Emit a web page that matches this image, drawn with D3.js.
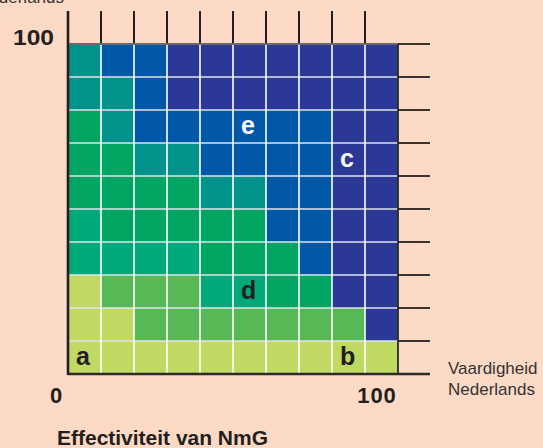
<!DOCTYPE html>
<html>
<head>
<meta charset="utf-8">
<script src="https://cdn.jsdelivr.net/npm/d3@7"></script>
<style>
  html, body { margin: 0; padding: 0; background: #fddac5; }
  svg { display: block; }
</style>
</head>
<body>
<svg id="grafiek" width="543" height="448"></svg>
<script>
// klassen per cel, rijen van boven (90-100) naar beneden (0-10)
const kleuren = {
  L: "#bfd962", M: "#57b955", TG: "#00a97a", G: "#00a562",
  T: "#00928b", B: "#0058a6", D: "#2b3895"
};
const rijen = [
  ["T","B","B","D","D","D","D","D","D","D"],
  ["T","T","B","D","D","D","D","D","D","D"],
  ["G","T","B","B","B","B","B","B","D","D"],
  ["G","G","T","T","B","B","B","B","D","D"],
  ["G","G","G","G","T","T","B","B","D","D"],
  ["TG","G","G","G","G","G","B","B","D","D"],
  ["TG","TG","TG","TG","G","G","G","B","D","D"],
  ["L","M","M","M","TG","TG","G","G","D","D"],
  ["L","L","M","M","M","M","M","M","M","D"],
  ["L","L","L","L","L","L","L","L","L","L"]
];
const stap = 10;
const topTicks = [10, 20, 30, 40, 50, 60, 70, 80, 90];
const rechtsTicks = [0, 10, 20, 30, 40, 50, 60, 70, 80, 90, 100];
const asLabels = ["0", "100"];
// letters: x = vaardigheid, y = effectiviteit (onderkant cel)
const letters = [
  { l: "a", x: 0, y: 0, wit: false },
  { l: "b", x: 80, y: 0, wit: false },
  { l: "c", x: 80, y: 60, wit: true },
  { l: "d", x: 50, y: 20, wit: false },
  { l: "e", x: 50, y: 70, wit: true }
];

const svg = d3.select("#grafiek");
const x = d3.scaleLinear().domain([0, 100]).range([68, 398]);
const y = d3.scaleLinear().domain([0, 100]).range([374, 44]);
const lettertype = "'Liberation Sans', Arial, sans-serif";

const cellen = [];
rijen.forEach((rij, i) => {
  rij.forEach((k, j) => {
    cellen.push({ x0: j * stap, y0: (rijen.length - 1 - i) * stap, k: k });
  });
});

svg.append("g").selectAll("rect")
  .data(cellen)
  .enter().append("rect")
    .attr("x", d => x(d.x0))
    .attr("y", d => y(d.y0 + stap))
    .attr("width", d => x(d.x0 + stap) - x(d.x0))
    .attr("height", d => y(d.y0) - y(d.y0 + stap))
    .attr("fill", d => kleuren[d.k]);

// witte rasterlijnen
const raster = svg.append("g");
raster.selectAll("line.h")
  .data(d3.range(stap, 100, stap))
  .enter().append("line")
    .attr("x1", x(0)).attr("x2", x(100))
    .attr("y1", d => y(d)).attr("y2", d => y(d))
    .attr("stroke", "#dfe4ee").attr("stroke-width", 1.6);
raster.selectAll("line.v")
  .data(d3.range(stap, 100, stap))
  .enter().append("line")
    .attr("x1", d => x(d)).attr("x2", d => x(d))
    .attr("y1", y(100)).attr("y2", y(0))
    .attr("stroke", "#ffffff").attr("stroke-width", 1.6);

// ticks boven
svg.append("g").selectAll("line")
  .data(topTicks)
  .enter().append("line")
    .attr("x1", d => x(d)).attr("x2", d => x(d))
    .attr("y1", 11).attr("y2", y(100))
    .attr("stroke", "#231f20").attr("stroke-width", 2);

// ticks rechts
svg.append("g").selectAll("line")
  .data(rechtsTicks)
  .enter().append("line")
    .attr("x1", x(100)).attr("x2", 430)
    .attr("y1", d => y(d)).attr("y2", d => y(d))
    .attr("stroke", "#231f20").attr("stroke-width", 1.8);

// randen
svg.append("line")
  .attr("x1", x(0)).attr("x2", x(100)).attr("y1", y(100)).attr("y2", y(100))
  .attr("stroke", "#6d6a6a").attr("stroke-width", 2.2);
svg.append("line")
  .attr("x1", x(100)).attr("x2", x(100)).attr("y1", y(100)).attr("y2", y(0))
  .attr("stroke", "#2a2a2a").attr("stroke-width", 1.8);
svg.append("line")
  .attr("x1", x(0)).attr("x2", 430).attr("y1", y(0)).attr("y2", y(0))
  .attr("stroke", "#2a2a2a").attr("stroke-width", 2.6);
svg.append("line")
  .attr("x1", x(0)).attr("x2", x(0)).attr("y1", 11).attr("y2", y(0) + 1)
  .attr("stroke", "#231f20").attr("stroke-width", 2.6);

// letters in cellen
svg.append("g").selectAll("text")
  .data(letters)
  .enter().append("text")
    .attr("x", d => x(d.x) + 8)
    .attr("y", d => y(d.y) - 9)
    .attr("fill", d => d.wit ? "#ffffff" : "#231f20")
    .style("font", "bold 25px " + lettertype)
    .text(d => d.l);

// as-getallen
svg.append("text")
  .attr("x", 13).attr("y", 45)
  .attr("textLength", 41)
  .attr("lengthAdjust", "spacingAndGlyphs")
  .attr("fill", "#231f20")
  .style("font", "bold 22px " + lettertype)
  .text("100");
svg.append("g").selectAll("text")
  .data(asLabels)
  .enter().append("text")
    .attr("x", d => d === "0" ? 56 : 377)
    .attr("y", 403)
    .attr("text-anchor", "middle")
    .attr("fill", "#231f20")
    .style("font", "bold 22px " + lettertype)
    .style("letter-spacing", d => d === "0" ? "0px" : "1px")
    .text(d => d);

// astitels
svg.append("text")
  .attr("x", 64).attr("y", 3)
  .attr("text-anchor", "end")
  .attr("fill", "#333")
  .style("font", "17px " + lettertype)
  .text("Nederlands");
const titelR = svg.append("text")
  .attr("fill", "#333")
  .style("font", "17px " + lettertype);
titelR.append("tspan").attr("x", 448).attr("y", 374).text("Vaardigheid");
titelR.append("tspan").attr("x", 448).attr("y", 395).text("Nederlands");

svg.append("text")
  .attr("x", 57).attr("y", 445)
  .attr("fill", "#231f20")
  .attr("textLength", 211)
  .attr("lengthAdjust", "spacingAndGlyphs")
  .style("font", "bold 20px " + lettertype)
  .text("Effectiviteit van NmG");
</script>
</body>
</html>
